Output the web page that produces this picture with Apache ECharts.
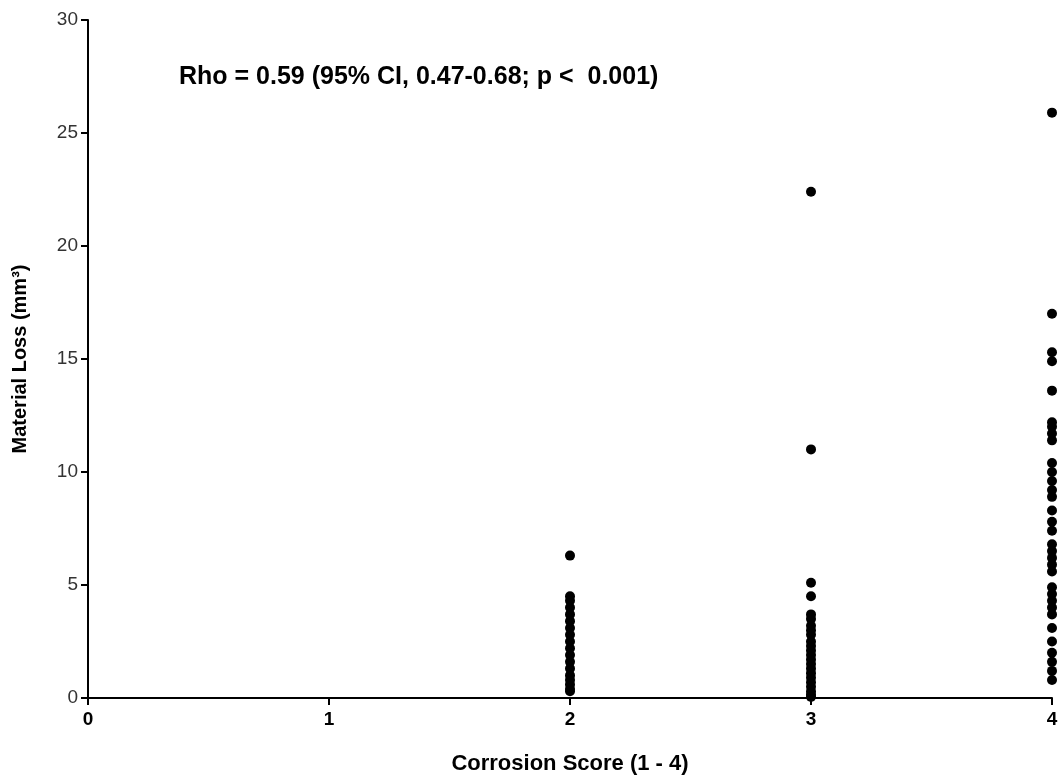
<!DOCTYPE html>
<html>
<head>
<meta charset="utf-8">
<script src="https://cdn.jsdelivr.net/npm/echarts@6/dist/echarts.min.js"></script>
<style>html,body{margin:0;padding:0;background:#fff}#chart{width:1061px;height:780px}</style>
</head>
<body>
<div id="chart"></div>
<script>
var score2 = [6.3, 4.5, 4.3, 4.0, 3.7, 3.4, 3.1, 2.8, 2.5, 2.2, 1.9, 1.6, 1.3, 1.0, 0.8, 0.6, 0.4, 0.3];
var score3 = [22.4, 11.0, 5.1, 4.5, 3.7, 3.5, 3.2, 3.0, 2.8, 2.5, 2.3, 2.1, 1.9, 1.7, 1.5, 1.3, 1.1, 0.9, 0.7, 0.5, 0.3, 0.15, 0.05];
var score4 = [25.9, 17.0, 15.3, 14.9, 13.6, 12.2, 12.0, 11.7, 11.4, 10.4, 10.0, 9.6, 9.2, 8.9, 8.3, 7.8, 7.4, 6.8, 6.5, 6.2, 5.9, 5.6, 4.9, 4.6, 4.3, 4.0, 3.7, 3.1, 2.5, 2.0, 1.6, 1.2, 0.8];

var points = [];
score2.forEach(function(v){ points.push([2, v]); });
score3.forEach(function(v){ points.push([3, v]); });
score4.forEach(function(v){ points.push([4, v]); });

var chart = echarts.init(document.getElementById('chart'));
var axisLine = { show: true, lineStyle: { color: '#000', width: 2 } };
chart.setOption({
    animation: false,
    title: {
        text: 'Rho = 0.59 (95% CI, 0.47-0.68; p <  0.001)',
        left: 174, top: 60,
        textStyle: { fontFamily: 'Liberation Sans', fontSize: 25, fontWeight: 'bold', color: '#000' }
    },
    grid: { left: 88, right: 9, top: 20, bottom: 80 },
    xAxis: {
        type: 'value', min: 0, max: 4, interval: 1,
        name: 'Corrosion Score (1 - 4)', nameLocation: 'middle', nameGap: 55,
        nameTextStyle: { fontFamily: 'Liberation Sans', fontSize: 22, fontWeight: 'bold', color: '#000' },
        axisLine: axisLine,
        axisTick: { show: true, length: 7, lineStyle: { color: '#000', width: 2 } },
        axisLabel: { fontFamily: 'Liberation Sans', fontSize: 19, fontWeight: 'bold', color: '#000', margin: 12 },
        splitLine: { show: false }
    },
    yAxis: {
        type: 'value', min: 0, max: 30, interval: 5,
        name: 'Material Loss (mm³)', nameLocation: 'middle', nameGap: 58,
        nameTextStyle: { fontFamily: 'Liberation Sans', fontSize: 20, fontWeight: 'bold', color: '#000' },
        axisLine: axisLine,
        axisTick: { show: true, length: 7, lineStyle: { color: '#000', width: 2 } },
        axisLabel: { fontFamily: 'Liberation Sans', fontSize: 19, color: '#333', margin: 10 },
        splitLine: { show: false }
    },
    series: [{
        type: 'scatter',
        data: points,
        symbolSize: 10,
        itemStyle: { color: '#000', opacity: 1 }
    }]
});
</script>
</body>
</html>
